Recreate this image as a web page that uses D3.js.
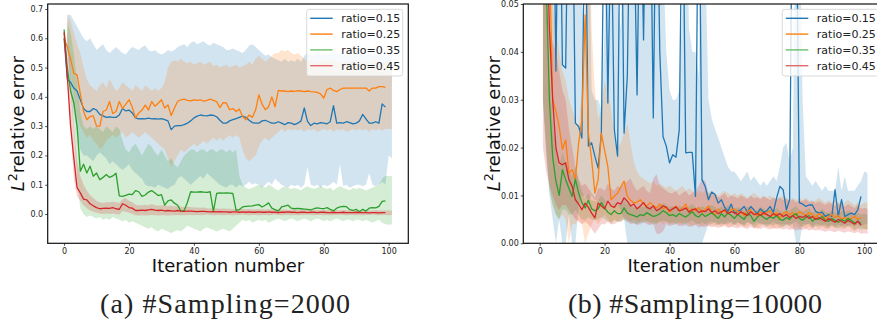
<!DOCTYPE html>
<html>
<head>
<meta charset="utf-8">
<script src="https://cdn.jsdelivr.net/npm/d3@7"></script>
<style>
  body { margin: 0; background: #fff; }
  svg { display: block; }
</style>
</head>
<body>
<svg width="877" height="325"></svg>
<script>
// iterations: lines use 0..99, the shaded bands use 1..101
let iters = d3.range(0, 100);
let bandIters = d3.range(1, 102);

let labels = ['ratio=0.15', 'ratio=0.25', 'ratio=0.35', 'ratio=0.45'];
let colors = ['#1f77b4', '#ff7f0e', '#2ca02c', '#d62728'];
let legendColors = ['#1f77b4', '#ff7f0e', '#6cbf6c', '#e26a6b'];

let xTicks = [0, 20, 40, 60, 80, 100];
let yTicks2000 = [0, 0.1, 0.2, 0.3, 0.4, 0.5, 0.6, 0.7];
let yTicks10000 = [0, 0.01, 0.02, 0.03, 0.04, 0.05];

// ---------- (a) #Sampling=2000 ----------
let err2000_15 = [0.60,0.46,0.45,0.43,0.42,0.39,0.36,0.35,0.35,0.36,
  0.355,0.34,0.335,0.33,0.332,0.33,0.33,0.338,0.36,0.352,
  0.355,0.345,0.328,0.325,0.326,0.325,0.327,0.325,0.326,0.324,
  0.326,0.322,0.318,0.288,0.3,0.302,0.302,0.305,0.31,0.318,
  0.328,0.334,0.338,0.336,0.335,0.338,0.337,0.332,0.32,0.31,
  0.31,0.318,0.322,0.326,0.33,0.334,0.33,0.32,0.312,0.31,
  0.31,0.318,0.32,0.315,0.31,0.31,0.315,0.31,0.305,0.312,
  0.31,0.305,0.31,0.318,0.362,0.316,0.302,0.31,0.308,0.312,
  0.31,0.308,0.315,0.37,0.31,0.312,0.31,0.315,0.312,0.308,
  0.31,0.318,0.34,0.325,0.31,0.31,0.315,0.31,0.376,0.365];
let err2000_25 = [0.60,0.57,0.53,0.48,0.475,0.41,0.35,0.322,0.333,0.335,
  0.30,0.30,0.35,0.355,0.384,0.343,0.35,0.384,0.36,0.375,
  0.39,0.365,0.328,0.345,0.355,0.372,0.355,0.384,0.368,0.378,
  0.39,0.362,0.372,0.336,0.362,0.385,0.39,0.392,0.388,0.386,
  0.39,0.388,0.39,0.385,0.388,0.392,0.388,0.384,0.363,0.38,
  0.379,0.356,0.36,0.35,0.358,0.333,0.322,0.338,0.33,0.355,
  0.407,0.375,0.356,0.366,0.40,0.366,0.422,0.42,0.42,0.418,
  0.42,0.419,0.421,0.42,0.418,0.42,0.418,0.417,0.415,0.41,
  0.396,0.425,0.43,0.422,0.418,0.425,0.43,0.43,0.43,0.43,
  0.43,0.43,0.43,0.43,0.42,0.43,0.43,0.435,0.435,0.432];
let err2000_35 = [0.63,0.50,0.42,0.38,0.30,0.146,0.17,0.14,0.163,0.129,
  0.14,0.117,0.125,0.135,0.125,0.13,0.139,0.062,0.06,0.064,
  0.068,0.066,0.08,0.076,0.06,0.065,0.075,0.08,0.072,0.063,
  0.066,0.03,0.045,0.048,0.037,0.03,0.009,0.012,0.04,0.076,
  0.075,0.075,0.076,0.075,0.074,0.076,0.009,0.07,0.072,0.071,
  0.072,0.071,0.07,0.012,0.015,0.024,0.026,0.027,0.028,0.03,
  0.032,0.024,0.03,0.038,0.02,0.015,0.01,0.024,0.027,0.03,
  0.02,0.018,0.019,0.018,0.017,0.016,0.014,0.018,0.021,0.019,
  0.018,0.022,0.016,0.011,0.02,0.024,0.026,0.025,0.015,0.012,
  0.016,0.008,0.016,0.01,0.02,0.022,0.021,0.026,0.043,0.045];
let err2000_45 = [0.62,0.47,0.30,0.19,0.09,0.072,0.051,0.048,0.035,0.028,
  0.022,0.018,0.019,0.02,0.019,0.022,0.018,0.016,0.035,0.03,
  0.022,0.02,0.012,0.012,0.013,0.012,0.014,0.016,0.013,0.012,
  0.013,0.011,0.012,0.011,0.01,0.012,0.01,0.009,0.01,0.01,
  0.009,0.008,0.009,0.009,0.008,0.007,0.008,0.007,0.008,0.007,
  0.007,0.006,0.007,0.007,0.006,0.007,0.006,0.007,0.006,0.006,
  0.007,0.006,0.006,0.007,0.006,0.006,0.005,0.006,0.006,0.007,
  0.006,0.006,0.005,0.006,0.006,0.005,0.006,0.006,0.005,0.006,
  0.006,0.005,0.005,0.006,0.005,0.005,0.006,0.005,0.005,0.005,
  0.006,0.005,0.005,0.005,0.004,0.005,0.005,0.004,0.005,0.005];

let up2000_15 = [0.68,0.68,0.66,0.64,0.62,0.6,0.59,0.6,0.58,0.56,
  0.57,0.58,0.56,0.55,0.56,0.57,0.56,0.55,0.545,0.56,
  0.57,0.565,0.56,0.57,0.575,0.56,0.555,0.56,0.55,0.545,
  0.55,0.56,0.555,0.56,0.57,0.575,0.58,0.57,0.585,0.59,
  0.58,0.585,0.59,0.58,0.575,0.585,0.58,0.575,0.57,0.56,
  0.56,0.565,0.56,0.555,0.55,0.56,0.575,0.58,0.57,0.56,
  0.55,0.54,0.545,0.535,0.53,0.525,0.52,0.53,0.52,0.525,
  0.52,0.53,0.52,0.54,0.55,0.545,0.54,0.55,0.545,0.55,
  0.545,0.55,0.555,0.55,0.545,0.54,0.55,0.555,0.55,0.545,
  0.55,0.54,0.545,0.55,0.54,0.545,0.55,0.54,0.545,0.55,0.545];
let lo2000_15 = [0.55,0.45,0.35,0.28,0.22,0.2,0.2,0.19,0.18,0.2,
  0.21,0.2,0.19,0.17,0.18,0.17,0.16,0.15,0.16,0.17,
  0.15,0.14,0.13,0.12,0.1,0.095,0.095,0.09,0.1,0.095,
  0.09,0.085,0.095,0.1,0.12,0.13,0.12,0.11,0.1,0.11,
  0.12,0.13,0.12,0.14,0.13,0.12,0.11,0.1,0.095,0.09,
  0.1,0.1,0.09,0.1,0.095,0.1,0.11,0.1,0.105,0.1,
  0.09,0.1,0.11,0.1,0.12,0.11,0.1,0.095,0.09,0.1,
  0.095,0.1,0.09,0.1,0.16,0.1,0.095,0.1,0.09,0.1,
  0.095,0.1,0.11,0.1,0.17,0.095,0.1,0.09,0.095,0.1,
  0.1,0.095,0.1,0.14,0.1,0.095,0.1,0.11,0.1,0.2,0.19];
let up2000_25 = [0.68,0.66,0.62,0.58,0.55,0.5,0.46,0.44,0.43,0.42,
  0.44,0.45,0.43,0.46,0.44,0.42,0.43,0.45,0.44,0.43,
  0.42,0.44,0.43,0.42,0.44,0.43,0.42,0.43,0.42,0.43,
  0.45,0.5,0.52,0.525,0.52,0.53,0.52,0.515,0.52,0.51,
  0.515,0.52,0.51,0.515,0.52,0.505,0.51,0.5,0.505,0.51,
  0.5,0.505,0.51,0.5,0.505,0.51,0.52,0.51,0.53,0.54,
  0.53,0.52,0.53,0.54,0.55,0.55,0.56,0.555,0.56,0.55,
  0.545,0.55,0.54,0.53,0.52,0.525,0.52,0.515,0.52,0.525,
  0.52,0.53,0.525,0.52,0.515,0.52,0.525,0.52,0.515,0.52,
  0.52,0.525,0.52,0.515,0.52,0.525,0.52,0.515,0.52,0.52,0.52];
let lo2000_25 = [0.58,0.5,0.4,0.33,0.3,0.28,0.26,0.27,0.25,0.24,
  0.22,0.23,0.25,0.26,0.27,0.26,0.27,0.28,0.26,0.27,
  0.28,0.27,0.26,0.27,0.28,0.27,0.26,0.25,0.24,0.23,
  0.22,0.19,0.16,0.18,0.2,0.22,0.21,0.22,0.23,0.24,
  0.23,0.24,0.25,0.24,0.25,0.26,0.25,0.26,0.25,0.26,
  0.27,0.26,0.27,0.26,0.22,0.19,0.18,0.19,0.2,0.23,
  0.25,0.26,0.25,0.26,0.27,0.28,0.29,0.28,0.29,0.285,
  0.29,0.285,0.29,0.28,0.29,0.285,0.29,0.28,0.285,0.29,
  0.285,0.29,0.28,0.29,0.285,0.29,0.28,0.285,0.29,0.285,
  0.29,0.285,0.29,0.28,0.29,0.285,0.29,0.285,0.29,0.29,0.29];
let up2000_35 = [0.66,0.62,0.55,0.45,0.35,0.3,0.29,0.3,0.29,0.3,
  0.29,0.28,0.3,0.29,0.28,0.3,0.29,0.25,0.22,0.21,
  0.23,0.24,0.22,0.2,0.22,0.24,0.23,0.21,0.2,0.22,
  0.2,0.18,0.19,0.17,0.16,0.18,0.2,0.21,0.22,0.22,
  0.21,0.22,0.22,0.21,0.22,0.22,0.21,0.22,0.22,0.21,
  0.22,0.21,0.22,0.13,0.1,0.09,0.085,0.09,0.095,0.1,
  0.095,0.09,0.1,0.095,0.085,0.08,0.09,0.095,0.09,0.085,
  0.09,0.085,0.08,0.09,0.095,0.09,0.085,0.09,0.095,0.09,
  0.085,0.09,0.08,0.09,0.095,0.09,0.085,0.08,0.09,0.085,
  0.09,0.085,0.08,0.085,0.09,0.095,0.1,0.12,0.13,0.13,0.13];
let lo2000_35 = [0.6,0.42,0.28,0.12,0.02,0.0,-0.01,-0.005,-0.01,-0.015,
  -0.01,-0.02,-0.015,-0.02,-0.01,-0.015,-0.02,-0.025,-0.02,-0.03,
  -0.025,-0.03,-0.035,-0.04,-0.045,-0.05,-0.045,-0.055,-0.06,-0.05,
  -0.055,-0.06,-0.065,-0.06,-0.055,-0.06,-0.05,-0.04,-0.045,-0.05,
  -0.055,-0.06,-0.05,-0.045,-0.05,-0.055,-0.06,-0.055,-0.05,-0.055,
  -0.06,-0.05,-0.04,-0.03,-0.02,-0.025,-0.02,-0.03,-0.025,-0.02,
  -0.025,-0.02,-0.03,-0.025,-0.02,-0.015,-0.02,-0.025,-0.02,-0.015,
  -0.02,-0.025,-0.02,-0.015,-0.02,-0.025,-0.02,-0.015,-0.02,-0.025,
  -0.02,-0.025,-0.02,-0.015,-0.02,-0.025,-0.02,-0.02,-0.025,-0.02,
  -0.02,-0.025,-0.02,-0.025,-0.03,-0.025,-0.02,-0.03,-0.035,-0.037,-0.035];
let up2000_45 = [0.63,0.5,0.3,0.18,0.13,0.1,0.08,0.065,0.055,0.045,
  0.04,0.038,0.04,0.04,0.042,0.04,0.038,0.05,0.055,0.045,
  0.04,0.032,0.03,0.03,0.032,0.03,0.034,0.03,0.028,0.03,
  0.028,0.027,0.028,0.026,0.028,0.025,0.024,0.025,0.024,0.022,
  0.022,0.021,0.022,0.02,0.019,0.02,0.019,0.018,0.019,0.018,
  0.018,0.017,0.018,0.017,0.017,0.016,0.017,0.016,0.016,0.016,
  0.016,0.015,0.016,0.015,0.015,0.016,0.015,0.015,0.014,0.015,
  0.015,0.014,0.015,0.014,0.014,0.015,0.014,0.014,0.013,0.014,
  0.014,0.013,0.014,0.013,0.013,0.014,0.013,0.013,0.013,0.012,
  0.013,0.012,0.013,0.012,0.012,0.013,0.012,0.012,0.012,0.012,0.012];
let lo2000_45 = [0.55,0.3,0.12,0.06,0.045,0.03,0.02,0.012,0.008,0.004,
  0.002,0.0,0.002,0.0,0.002,0.0,-0.002,0.01,0.008,0.004,
  0.0,-0.004,-0.005,-0.004,-0.005,-0.004,-0.003,-0.004,-0.005,-0.004,
  -0.004,-0.005,-0.004,-0.004,-0.003,-0.004,-0.004,-0.003,-0.003,-0.004,
  -0.003,-0.004,-0.003,-0.002,-0.003,-0.004,-0.003,-0.003,-0.004,-0.003,
  -0.003,-0.004,-0.003,-0.003,-0.002,-0.003,-0.004,-0.003,-0.003,-0.004,
  -0.003,-0.003,-0.004,-0.003,-0.002,-0.003,-0.004,-0.003,-0.003,-0.004,
  -0.003,-0.004,-0.003,-0.003,-0.002,-0.003,-0.004,-0.003,-0.003,-0.004,
  -0.003,-0.004,-0.003,-0.003,-0.002,-0.003,-0.004,-0.003,-0.003,-0.004,
  -0.003,-0.004,-0.003,-0.003,-0.002,-0.003,-0.004,-0.003,-0.003,-0.004,-0.003];

// ---------- (b) #Sampling=10000 ----------
let err10000_15 = [0.6,0.4,0.25,0.15,0.09,0.036,0.09,0.0373,0.0366,0.085,
  0.08,0.0251,0.0244,0.022,0.075,0.0203,0.021,0.0182,0.0157,0.023,
  0.08,0.0293,0.07,0.0237,0.0182,0.085,0.023,0.035,0.08,0.07,
  0.031,0.08,0.0425,0.09,0.08,0.0262,0.085,0.04,0.0223,0.0203,
  0.0168,0.0185,0.018,0.0237,0.08,0.0189,0.019,0.019,0.0098,0.085,
  0.0133,0.0119,0.0091,0.0107,0.0102,0.0084,0.0091,0.0075,0.0067,0.0082,
  0.0063,0.0067,0.007,0.0077,0.0065,0.0077,0.007,0.0062,0.0072,0.0065,
  0.0068,0.0077,0.0065,0.0095,0.0119,0.0112,0.007,0.0091,0.09,0.08,
  0.0085,0.0082,0.0077,0.008,0.008,0.0067,0.0063,0.0065,0.0056,0.006,
  0.0056,0.0112,0.0056,0.0091,0.0056,0.006,0.0063,0.006,0.007,0.0098];
let err10000_25 = [0.35,0.2,0.1,0.06,0.030,0.0276,0.0244,0.0196,0.0216,0.0147,
  0.0154,0.0133,0.021,0.0258,0.0477,0.023,0.0175,0.0105,0.0133,0.023,
  0.0194,0.016,0.0091,0.0098,0.0105,0.0118,0.013,0.0098,0.009,0.0084,
  0.0086,0.0091,0.0082,0.0078,0.0085,0.0079,0.0074,0.0082,0.0072,0.0076,
  0.0065,0.0072,0.0078,0.0068,0.0074,0.0082,0.0066,0.0072,0.0068,0.0075,
  0.0064,0.007,0.0078,0.0066,0.0058,0.0072,0.0064,0.0068,0.0062,0.007,
  0.0072,0.0066,0.0064,0.0058,0.0068,0.007,0.0062,0.0056,0.0066,0.006,
  0.0064,0.0068,0.0058,0.0064,0.0052,0.0062,0.0066,0.006,0.0064,0.0058,
  0.0066,0.0062,0.0058,0.0064,0.006,0.0054,0.0062,0.0058,0.0052,0.0056,
  0.006,0.0054,0.0058,0.005,0.0054,0.0048,0.0052,0.0056,0.005,0.0054];
let err10000_35 = [0.25,0.12,0.055,0.03,0.018,0.013,0.010,0.0154,0.0133,0.0115,
  0.0098,0.0134,0.0105,0.0085,0.0074,0.009,0.0072,0.0068,0.0072,0.0085,
  0.0074,0.0065,0.006,0.0068,0.0062,0.0062,0.0074,0.0063,0.006,0.0058,
  0.0055,0.006,0.0058,0.0064,0.006,0.0056,0.0058,0.0062,0.0068,0.0064,
  0.0058,0.006,0.0056,0.0062,0.0058,0.0055,0.006,0.0066,0.0058,0.0055,
  0.0062,0.0056,0.006,0.0064,0.0058,0.0052,0.0062,0.0055,0.0064,0.0058,
  0.0052,0.006,0.0055,0.005,0.0062,0.0058,0.0046,0.0054,0.006,0.0054,
  0.005,0.0056,0.0052,0.0058,0.005,0.0048,0.0054,0.005,0.0058,0.0062,
  0.0052,0.0048,0.0054,0.0058,0.0046,0.0052,0.005,0.0056,0.0048,0.0046,
  0.0052,0.0048,0.0044,0.005,0.0046,0.0052,0.0048,0.0042,0.0046,0.0042];
let err10000_45 = [0.3,0.15,0.07,0.045,0.03,0.02,0.0168,0.0164,0.0168,0.0133,
  0.0119,0.0091,0.0082,0.007,0.0084,0.0075,0.0063,0.0053,0.0084,0.0078,
  0.0072,0.0088,0.0078,0.0075,0.0085,0.0082,0.0095,0.0088,0.0078,0.0082,
  0.0072,0.0078,0.0085,0.0075,0.0072,0.0078,0.0068,0.0072,0.0078,0.0075,
  0.0068,0.0072,0.0076,0.0068,0.007,0.0074,0.0065,0.007,0.0072,0.0064,
  0.0068,0.0066,0.0072,0.0064,0.0068,0.0062,0.0066,0.007,0.0062,0.0066,
  0.0064,0.006,0.0066,0.0062,0.0058,0.0066,0.006,0.0062,0.0058,0.0064,
  0.006,0.0056,0.0062,0.0058,0.0062,0.0056,0.006,0.0054,0.0058,0.0052,
  0.0056,0.0054,0.0058,0.0052,0.0056,0.005,0.0054,0.005,0.0046,0.0052,
  0.0048,0.0044,0.005,0.0046,0.0042,0.0048,0.0044,0.004,0.0046,0.0038];

let up10000_15 = [0.09,0.09,0.09,0.09,0.09,0.06,0.08,0.06,0.06,0.08,
  0.08,0.055,0.05,0.045,0.08,0.032,0.03,0.03,0.028,0.045,
  0.08,0.06,0.08,0.05,0.045,0.08,0.05,0.06,0.08,0.08,
  0.06,0.08,0.07,0.08,0.08,0.06,0.08,0.06,0.04,0.032,
  0.03,0.03,0.032,0.05,0.08,0.045,0.04,0.04,0.035,0.08,
  0.06,0.03,0.026,0.024,0.022,0.02,0.018,0.016,0.015,0.015,
  0.014,0.013,0.014,0.015,0.013,0.014,0.013,0.012,0.013,0.012,
  0.013,0.014,0.013,0.016,0.02,0.021,0.017,0.02,0.08,0.07,
  0.03,0.014,0.013,0.012,0.013,0.012,0.011,0.012,0.011,0.011,
  0.011,0.016,0.011,0.014,0.011,0.011,0.011,0.012,0.013,0.015,0.0147];
let lo10000_15 = [0.03,0.02,0.01,0.005,0,0.005,0,0,0.006,0,
  0,0.008,0.01,0.01,0.009,0.01,0.009,0.009,0.008,0.008,
  0.009,0.008,0.008,0.008,0.007,0.005,0,0,0,0,
  0,0,0,0,0,0,0,0,0,0,
  0,0,0,0,0,0,0,0,0,0,
  0.002,0.004,0.004,0.0045,0.004,0.004,0.004,0.004,0.0045,0.004,
  0.0045,0.004,0.004,0.0045,0.004,0.004,0.0045,0.004,0.004,0.004,
  0.004,0.0045,0.004,0.004,0.004,0.004,0.004,0.004,0,0,
  0.004,0.004,0.004,0.0035,0.004,0.004,0.0035,0.004,0.0035,0.004,
  0.0035,0.004,0.0035,0.004,0.0035,0.004,0.0035,0.004,0.0035,0.004,0.004];
let up10000_25 = [0.09,0.09,0.09,0.05,0.045,0.04,0.036,0.034,0.03,0.028,
  0.026,0.024,0.032,0.05,0.08,0.045,0.032,0.026,0.028,0.034,
  0.032,0.028,0.022,0.02,0.021,0.023,0.025,0.021,0.017,0.015,
  0.014,0.0135,0.013,0.0125,0.013,0.012,0.0125,0.012,0.0115,0.012,
  0.0115,0.011,0.0115,0.012,0.011,0.0115,0.011,0.0105,0.011,0.0105,
  0.011,0.0105,0.011,0.0105,0.01,0.0105,0.011,0.0105,0.01,0.0105,
  0.01,0.0105,0.01,0.0095,0.01,0.0105,0.01,0.0095,0.01,0.0095,
  0.01,0.0095,0.009,0.0095,0.01,0.0095,0.009,0.0095,0.009,0.0095,
  0.009,0.0095,0.009,0.0085,0.009,0.0095,0.009,0.0085,0.009,0.0085,
  0.009,0.0085,0.008,0.0085,0.009,0.0085,0.008,0.0085,0.008,0.0085,0.0085];
let lo10000_25 = [0.03,0.02,0.012,0.008,0.006,0.005,0.006,0.005,0.0,0.004,
  0.004,0.005,0.004,0.0,0.002,0.004,0.005,0.004,0.005,0.006,
  0.005,0.004,0.005,0.0045,0.005,0.0055,0.005,0.0045,0.005,0.0045,
  0.0045,0.005,0.0045,0.004,0.0045,0.004,0.0045,0.004,0.0045,0.004,
  0.004,0.0045,0.004,0.004,0.0045,0.004,0.0035,0.004,0.004,0.0035,
  0.004,0.0035,0.004,0.0035,0.004,0.0035,0.004,0.0035,0.0035,0.004,
  0.0035,0.004,0.0035,0.0035,0.004,0.0035,0.003,0.0035,0.004,0.0035,
  0.0035,0.003,0.0035,0.003,0.0035,0.004,0.0035,0.003,0.0035,0.003,
  0.0035,0.003,0.0035,0.003,0.0035,0.003,0.0035,0.003,0.003,0.0035,
  0.003,0.0035,0.003,0.003,0.0035,0.003,0.0025,0.003,0.0035,0.003,0.003];
let up10000_35 = [0.09,0.05,0.035,0.025,0.02,0.016,0.019,0.017,0.015,0.014,
  0.016,0.013,0.011,0.0095,0.0105,0.009,0.0088,0.009,0.01,0.0092,
  0.0082,0.0078,0.0084,0.008,0.008,0.009,0.0082,0.0078,0.0076,0.0074,
  0.0078,0.0076,0.008,0.0078,0.0074,0.0076,0.008,0.0084,0.008,0.0076,
  0.0078,0.0074,0.0078,0.0076,0.0072,0.0078,0.0082,0.0076,0.0072,0.0078,
  0.0074,0.0078,0.008,0.0076,0.007,0.0078,0.0072,0.008,0.0076,0.007,
  0.0076,0.0072,0.0068,0.0078,0.0074,0.0064,0.007,0.0076,0.0072,0.0068,
  0.0072,0.0068,0.0074,0.0068,0.0066,0.007,0.0068,0.0074,0.0078,0.007,
  0.0066,0.007,0.0074,0.0064,0.0068,0.0066,0.0072,0.0066,0.0064,0.0068,
  0.0066,0.0062,0.0068,0.0064,0.0068,0.0066,0.006,0.0064,0.006,0.0062,0.006];
let lo10000_35 = [0.03,0.018,0.011,0.008,0.006,0.005,0.007,0.007,0.006,0.006,
  0.007,0.006,0.005,0.0048,0.0055,0.005,0.0048,0.005,0.0055,0.005,
  0.0046,0.0044,0.0048,0.0045,0.0045,0.005,0.0046,0.0044,0.0042,0.004,
  0.0044,0.0042,0.0046,0.0044,0.004,0.0042,0.0045,0.0048,0.0046,0.0042,
  0.0044,0.004,0.0044,0.0042,0.004,0.0044,0.0048,0.0042,0.004,0.0044,
  0.004,0.0043,0.0046,0.0042,0.0037,0.0044,0.004,0.0046,0.0042,0.0037,
  0.0043,0.004,0.0035,0.0044,0.0042,0.0032,0.0038,0.0043,0.0038,0.0035,
  0.004,0.0037,0.0042,0.0036,0.0034,0.0038,0.0036,0.0042,0.0045,0.0037,
  0.0034,0.0038,0.0042,0.0032,0.0037,0.0035,0.004,0.0034,0.0032,0.0037,
  0.0034,0.003,0.0036,0.0032,0.0037,0.0034,0.0028,0.0032,0.0028,0.003,0.0028];
let up10000_45 = [0.09,0.06,0.045,0.042,0.04,0.036,0.032,0.03,0.024,0.02,
  0.016,0.0135,0.012,0.0125,0.0115,0.0105,0.0095,0.0115,0.0115,0.011,
  0.0125,0.0115,0.011,0.012,0.0115,0.0125,0.013,0.0135,0.012,0.011,
  0.0115,0.012,0.011,0.0105,0.0135,0.0145,0.012,0.0115,0.011,0.0105,
  0.0105,0.011,0.01,0.0105,0.011,0.01,0.0105,0.011,0.012,0.0135,
  0.013,0.0105,0.01,0.0105,0.0095,0.01,0.0105,0.0095,0.01,0.0098,
  0.0094,0.01,0.0096,0.0092,0.01,0.0094,0.0096,0.0092,0.0098,0.0094,
  0.009,0.0096,0.0092,0.0096,0.009,0.0094,0.0088,0.0092,0.0086,0.009,
  0.0088,0.0092,0.0086,0.009,0.0084,0.0088,0.0084,0.008,0.0086,0.0082,
  0.0078,0.0084,0.008,0.0076,0.0082,0.0078,0.0074,0.008,0.0072,0.0074,0.0072];
let lo10000_45 = [0.02,0.015,0.012,0.01,0.008,0.007,0.008,0.008,0.007,0.006,
  0.005,0.0045,0.004,0.0045,0.004,0.003,0.002,0.003,0.004,0.004,
  0.0045,0.004,0.004,0.0045,0.0045,0.005,0.0045,0.004,0.0042,0.0038,
  0.004,0.0045,0.004,0.0038,0.004,0.002,0.002,0.0025,0.004,0.0036,
  0.0038,0.004,0.0036,0.0036,0.0038,0.0034,0.0036,0.0038,0.0033,0.0035,
  0.0034,0.0037,0.0033,0.0035,0.0032,0.0034,0.0036,0.0032,0.0034,0.0033,
  0.0031,0.0034,0.0032,0.003,0.0034,0.0031,0.0032,0.003,0.0033,0.0031,
  0.0029,0.0032,0.003,0.0032,0.0029,0.0031,0.0028,0.003,0.0027,0.0029,
  0.0028,0.003,0.0027,0.0029,0.0026,0.0028,0.0026,0.0024,0.0027,0.0025,
  0.0023,0.0026,0.0024,0.0022,0.0025,0.0023,0.0021,0.0024,0.002,0.0021,0.002];

let panels = [
  { name: 'a', left: 47.7, yDomain: [-0.1, 0.717], yTicks: yTicks2000, fmt: d3.format('.1f'),
    caption: '(a) #Sampling=2000', captionX: 225, captionW: 250,
    lines: [err2000_15, err2000_25, err2000_35, err2000_45],
    uppers: [up2000_15, up2000_25, up2000_35, up2000_45],
    lowers: [lo2000_15, lo2000_25, lo2000_35, lo2000_45] },
  { name: 'b', left: 523.3, yDomain: [0, 0.05], yTicks: yTicks10000, fmt: d3.format('.2f'),
    caption: '(b) #Sampling=10000', captionX: 695, captionW: 254,
    lines: [err10000_15, err10000_25, err10000_35, err10000_45],
    uppers: [up10000_15, up10000_25, up10000_35, up10000_45],
    lowers: [lo10000_15, lo10000_25, lo10000_35, lo10000_45] }
];

let svg = d3.select('svg');
let plotW = 360.6, plotTop = 4, plotBottom = 243.3;
let sans = 'DejaVu Sans, sans-serif';

panels.forEach((p) => {
  let x = d3.scaleLinear().domain([-5.05, 106.05]).range([p.left, p.left + plotW]);
  let y = d3.scaleLinear().domain(p.yDomain).range([plotBottom, plotTop]);

  svg.append('clipPath').attr('id', 'clip-' + p.name)
    .append('rect')
      .attr('x', p.left).attr('y', plotTop)
      .attr('width', plotW).attr('height', plotBottom - plotTop);

  let g = svg.append('g').attr('clip-path', `url(#clip-${p.name})`);

  // shaded bands underneath
  p.uppers.forEach((up, k) => {
    let area = d3.area()
        .x((d) => x(d))
        .y0((d, i) => y(p.lowers[k][i]))
        .y1((d, i) => y(up[i]));

    g.append('path')
        .datum(bandIters)
        .attr('d', area)
        .attr('fill', colors[k])
        .attr('fill-opacity', 0.2);
  });

  // mean curves on top
  let line = d3.line().x((d, i) => x(iters[i])).y((d) => y(d));
  p.lines.forEach((vals, k) => {
    g.append('path')
        .datum(vals)
        .attr('d', line)
        .attr('fill', 'none')
        .attr('stroke', colors[k])
        .attr('stroke-width', 1.3)
        .attr('stroke-linejoin', 'round');
  });

  // axes
  let xAxis = svg.append('g')
      .attr('transform', `translate(0,${plotBottom})`)
      .call(d3.axisBottom(x).tickValues(xTicks).tickSize(2.5).tickSizeOuter(0).tickPadding(2.5));
  let yAxis = svg.append('g')
      .attr('transform', `translate(${p.left},0)`)
      .call(d3.axisLeft(y).tickValues(p.yTicks).tickFormat(p.fmt).tickSize(2.5).tickSizeOuter(0).tickPadding(2));
  [xAxis, yAxis].forEach((a) => {
    a.select('.domain').remove();
    a.selectAll('text').style('font-family', sans).style('font-size', '8px').attr('fill', '#222');
    a.selectAll('line').attr('stroke', '#222').attr('stroke-width', 0.8);
  });

  // frame
  svg.append('rect')
      .attr('x', p.left).attr('y', plotTop)
      .attr('width', plotW).attr('height', plotBottom - plotTop)
      .attr('fill', 'none')
      .attr('stroke', '#111')
      .attr('stroke-width', 1.2);

  // axis labels
  svg.append('text')
      .attr('x', p.left + plotW / 2).attr('y', 272)
      .attr('text-anchor', 'middle')
      .style('font-family', sans).style('font-size', '18px')
      .attr('fill', '#111')
      .text('Iteration number');

  let yl = svg.append('text')
      .attr('transform', `translate(${p.left - 23.5},${(plotTop + plotBottom) / 2}) rotate(-90)`)
      .attr('text-anchor', 'middle')
      .style('font-family', sans).style('font-size', '18px')
      .attr('fill', '#111');
  yl.append('tspan').style('font-style', 'italic').text('L');
  yl.append('tspan').attr('dy', -7).style('font-size', '12.5px').text('2');
  yl.append('tspan').attr('dy', 7).text('relative error');

  // legend
  let lg = svg.append('g')
      .attr('transform', `translate(${p.left + plotW - 5.6 - 96},9.3)`);
  lg.append('rect')
      .attr('width', 96).attr('height', 66.7)
      .attr('rx', 2.5)
      .attr('fill', '#fff').attr('fill-opacity', 0.8)
      .attr('stroke', '#d0d0d0').attr('stroke-width', 0.8);
  labels.forEach((l, k) => {
    let ly = 9 + k * 15.8;
    lg.append('line')
        .attr('x1', 3.5).attr('x2', 26).attr('y1', ly).attr('y2', ly)
        .attr('stroke', legendColors[k]).attr('stroke-width', 1.4);
    lg.append('text')
        .attr('x', 34.5).attr('y', ly).attr('dy', '0.35em')
        .style('font-family', sans).style('font-size', '11px')
        .attr('fill', '#222')
        .text(l);
  });

  // caption
  svg.append('text')
      .attr('x', p.captionX).attr('y', 313)
      .attr('text-anchor', 'middle')
      .attr('textLength', p.captionW)
      .attr('lengthAdjust', 'spacing')
      .style('font-family', '"Liberation Serif", serif').style('font-size', '28px')
      .attr('fill', '#222')
      .text(p.caption);
});
</script>
</body>
</html>
